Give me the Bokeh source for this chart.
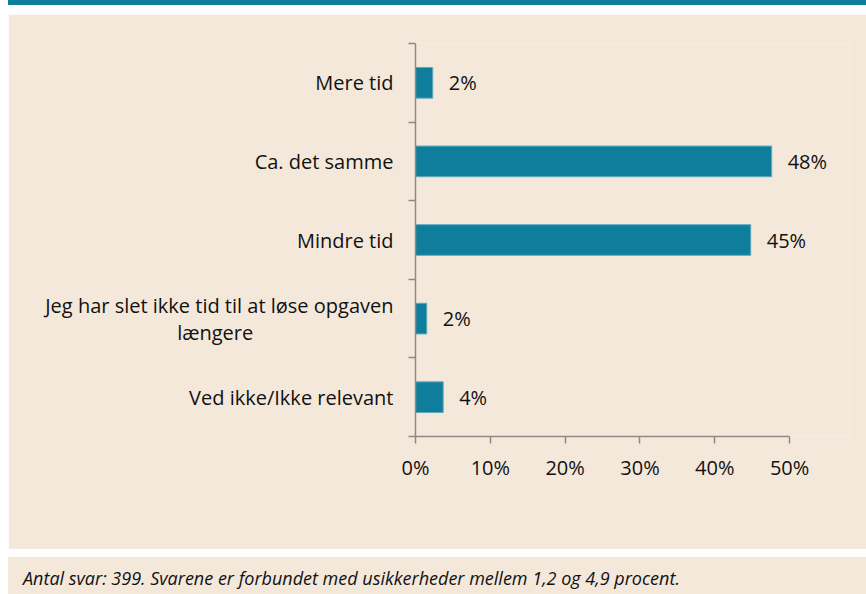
from bokeh.plotting import figure
from bokeh.models import (Range1d, FixedTicker, PrintfTickFormatter, ColumnDataSource,
                          LabelSet, Spacer, Div)
from bokeh.core.properties import value
from bokeh.layouts import column, row
from bokeh.embed import file_html
from bokeh.resources import INLINE

# ---- data ----
NB = "\u00a0"
categories = ["Mere tid", "Ca. det samme", "Mindre tid",
              "Jeg har slet ikke tid til at løse opgaven\nlængere" + NB * 27,
              "Ved ikke/Ikke relevant"]
values = [2.3, 47.6, 44.8, 1.5, 3.7]
value_labels = ["2%", "48%", "45%", "2%", "4%"]
x_ticks = [0, 10, 20, 30, 40, 50]
footnote = "Antal svar: 399. Svarene er forbundet med usikkerheder mellem 1,2 og 4,9 procent."

# ---- styles ----
TEAL = "#0F7E9C"
BEIGE = "#F4E8DB"
TXT = "#111111"
AX = "#8A8A8A"
FONT = "Open Sans"
W = 858

n = len(categories)
centers = [n - 0.5 - i for i in range(n)]

top = Div(text="", width=W, height=5, margin=(0, 0, 0, 0),
          styles={"background-color": TEAL})

p = figure(width=W, height=535, toolbar_location=None, output_backend="svg",
           x_range=Range1d(0, 58), y_range=Range1d(0, n),
           min_border_left=407, min_border_right=17, min_border_top=29, min_border_bottom=113)
p.border_fill_color = BEIGE
p.background_fill_color = BEIGE
p.outline_line_color = None
p.grid.visible = False

src = ColumnDataSource(dict(y=centers, v=values, lab=value_labels))
p.hbar(y="y", right="v", left=0, height=0.39, source=src,
       fill_color=TEAL, line_color="#5FA9BF", line_width=1)

p.add_layout(LabelSet(x="v", y="y", text="lab", source=src, x_offset=16,
                      text_align="left", text_baseline="middle",
                      text_font=value(FONT), text_font_size="20px", text_color=TXT))

# x axis
p.xaxis.ticker = FixedTicker(ticks=x_ticks)
p.xaxis.bounds = (x_ticks[0], x_ticks[-1])
p.xaxis.formatter = PrintfTickFormatter(format="%d%%")
p.xaxis.major_label_text_font = FONT
p.xaxis.major_label_text_font_size = "20px"
p.xaxis.major_label_text_color = TXT
p.xaxis.major_label_standoff = 10
p.xaxis.major_tick_out = 7
p.xaxis.major_tick_in = 0
p.xaxis.minor_tick_line_color = None
p.xaxis.axis_line_color = AX
p.xaxis.axis_line_width = 1.5
p.xaxis.major_tick_line_color = AX
p.xaxis.major_tick_line_width = 1.5

# y axis: labels at category centres, tick marks at category boundaries
p.yaxis.ticker = FixedTicker(ticks=centers, minor_ticks=list(range(n + 1)))
p.yaxis.major_label_overrides = {c: lab for c, lab in zip(centers, categories)}
p.yaxis.major_label_text_font = FONT
p.yaxis.major_label_text_font_size = "20px"
p.yaxis.major_label_text_color = TXT
p.yaxis.major_label_text_line_height = 1.0
p.yaxis.major_label_standoff = 15
p.yaxis.major_tick_out = 0
p.yaxis.major_tick_in = 0
p.yaxis.major_tick_line_color = None
p.yaxis.minor_tick_out = 7
p.yaxis.minor_tick_in = 0
p.yaxis.minor_tick_line_color = AX
p.yaxis.minor_tick_line_width = 1.5
p.yaxis.axis_line_color = AX
p.yaxis.axis_line_width = 1.5

foot = Div(text=footnote, width=W, height=37, margin=(0, 0, 0, 0),
           styles={"background-color": BEIGE, "font-family": "Open Sans",
                   "font-style": "italic", "font-size": "18px", "color": TXT,
                   "box-sizing": "border-box", "padding-left": "15px",
                   "padding-top": "9px", "line-height": "24px", "white-space": "nowrap",
                   "overflow": "hidden"})

inner = column(top, Spacer(width=W, height=9, margin=(0, 0, 0, 0)), p,
               Spacer(width=W, height=8, margin=(0, 0, 0, 0)), foot)
layout = row(Spacer(width=8, height=10, margin=(0, 0, 0, 0)), inner)
open("out.html", "w").write(file_html(layout, INLINE))
